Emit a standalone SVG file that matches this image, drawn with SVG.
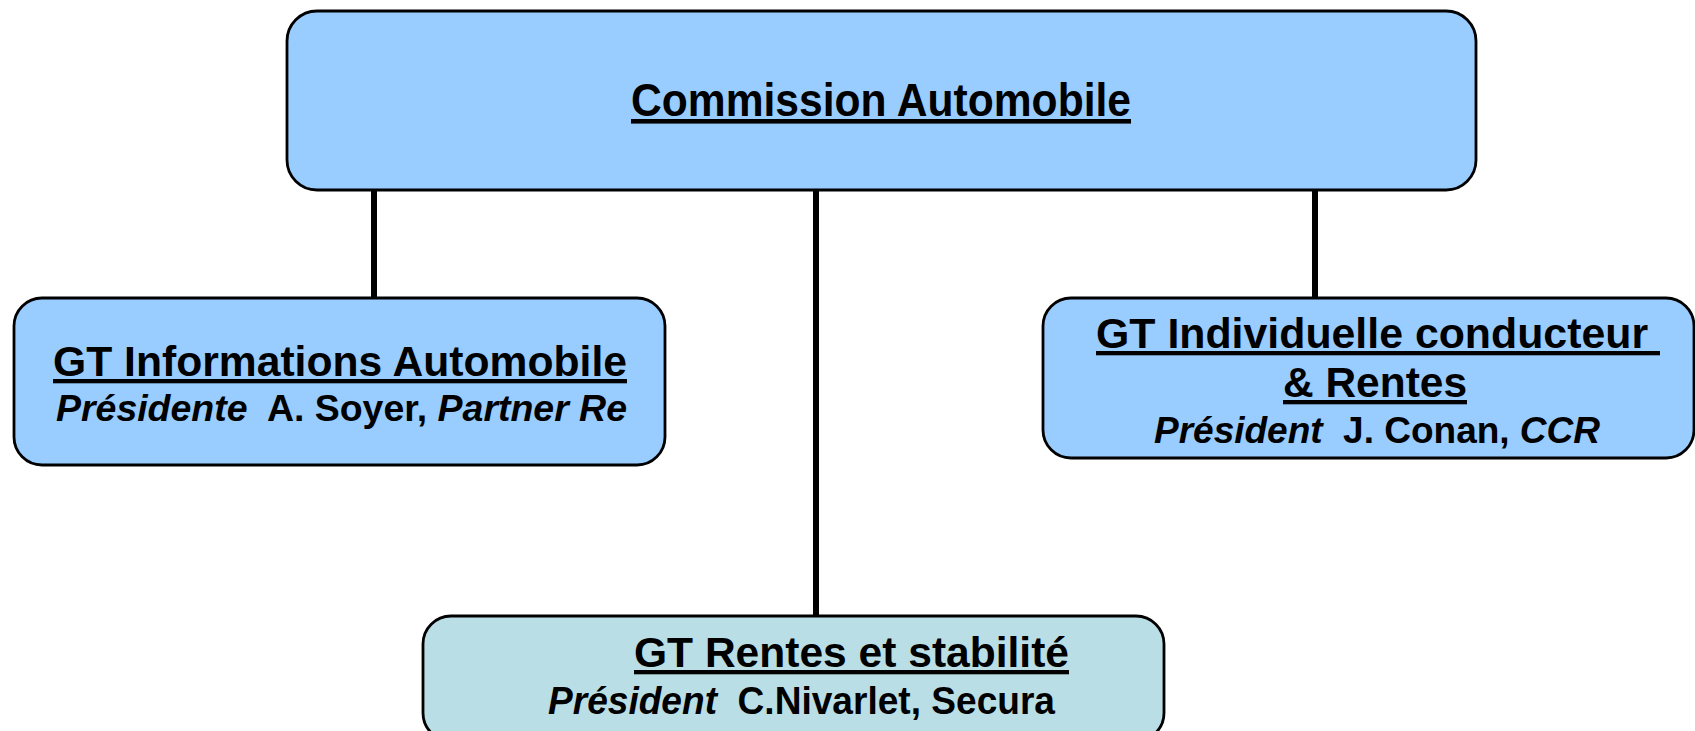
<svg xmlns="http://www.w3.org/2000/svg" width="1695" height="731" viewBox="0 0 1695 731">
<style>
.box{fill:#99CCFF;stroke:#000;stroke-width:2.8}
.box2{fill:#BADEE6;stroke:#000;stroke-width:2.8}
.t{font-family:"Liberation Sans",Arial,sans-serif;font-weight:bold;fill:#000}
.u{text-decoration:underline}
.i{font-style:italic}
.conn{stroke:#000;stroke-width:6;fill:none}
</style>
<rect width="1695" height="731" fill="#fff"/>
<g id="connectors">
<line class="conn" x1="374" y1="190" x2="374" y2="298"/>
<line class="conn" x1="816" y1="190" x2="816" y2="616"/>
<line class="conn" x1="1315" y1="190" x2="1315" y2="298"/>
</g>
<g id="commission">
<rect class="box" x="287" y="11" width="1189" height="179" rx="30"/>
<text class="t u" x="631" y="116" font-size="46" textLength="500" lengthAdjust="spacingAndGlyphs">Commission Automobile</text>
</g>
<g id="gt-informations">
<rect class="box" x="14" y="298" width="651" height="167" rx="28"/>
<text class="t u" x="53" y="376" font-size="43" textLength="574" lengthAdjust="spacingAndGlyphs">GT Informations Automobile</text>
<text class="t" x="56" y="421" font-size="36" textLength="571" lengthAdjust="spacingAndGlyphs" xml:space="preserve"><tspan class="i">Présidente</tspan>  A. Soyer, <tspan class="i">Partner Re</tspan></text>
</g>
<g id="gt-individuelle">
<rect class="box" x="1043" y="298" width="651" height="160" rx="28"/>
<text class="t u" x="1096" y="348" font-size="43" textLength="564" lengthAdjust="spacingAndGlyphs" xml:space="preserve">GT Individuelle conducteur </text>
<text class="t u" x="1283" y="397" font-size="43" textLength="184" lengthAdjust="spacingAndGlyphs">&amp; Rentes</text>
<text class="t" x="1154" y="443" font-size="37" textLength="446" lengthAdjust="spacingAndGlyphs" xml:space="preserve"><tspan class="i">Président</tspan>  J. Conan, <tspan class="i">CCR</tspan></text>
</g>
<g id="gt-rentes">
<rect class="box2" x="423" y="616" width="741" height="125" rx="28"/>
<text class="t u" x="634" y="667" font-size="43" textLength="435" lengthAdjust="spacingAndGlyphs">GT Rentes et stabilité</text>
<text class="t" x="548" y="714" font-size="38" textLength="507" lengthAdjust="spacingAndGlyphs" xml:space="preserve"><tspan class="i">Président</tspan>  C.Nivarlet, Secura</text>
</g>
</svg>
